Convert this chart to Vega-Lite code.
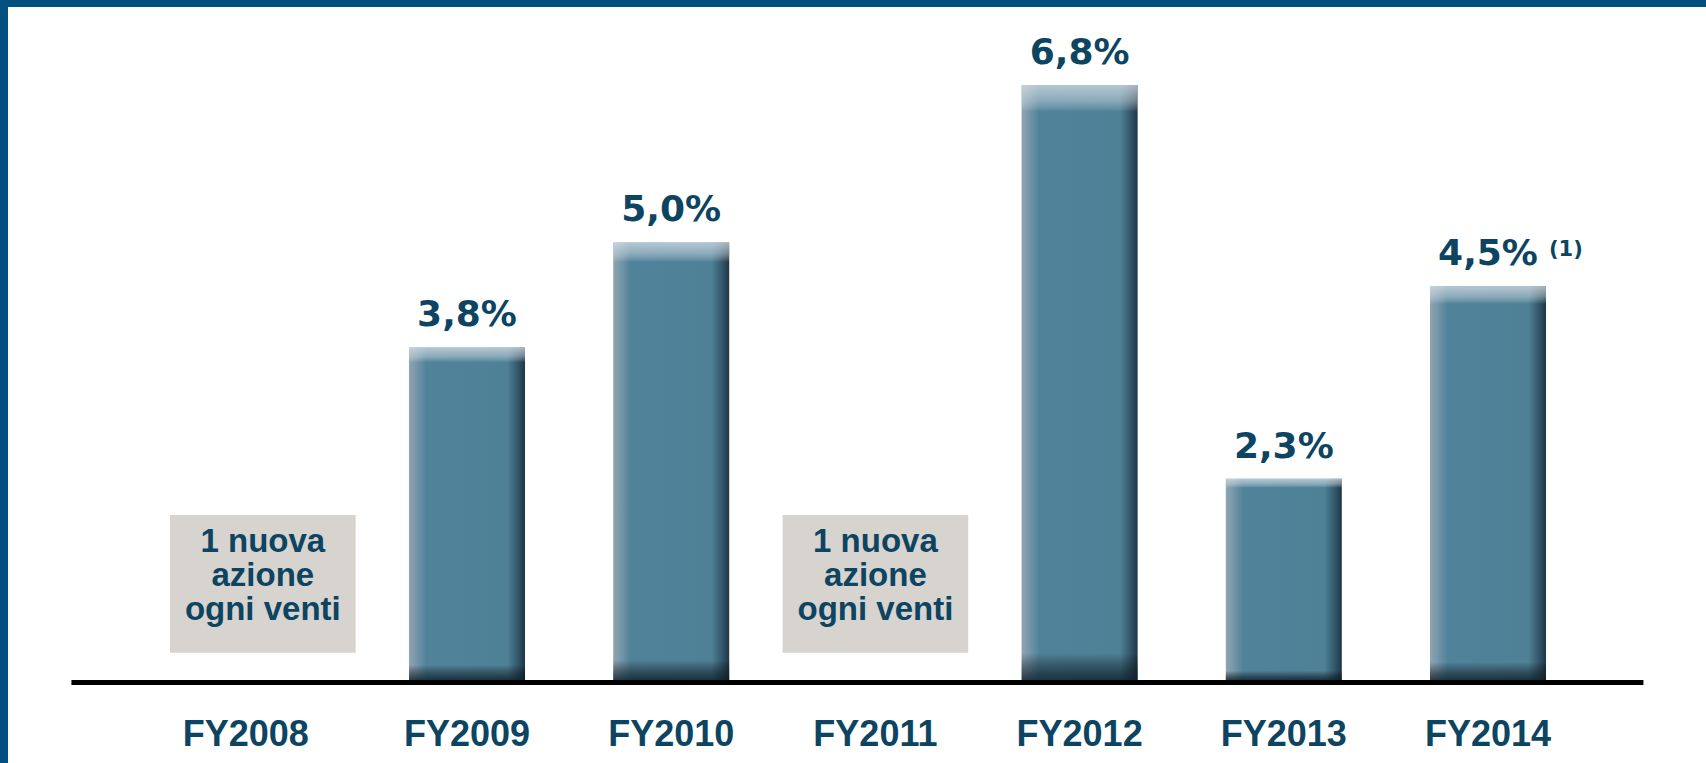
{
  "$schema": "https://vega.github.io/schema/vega-lite/v6.json",
  "width": 1698,
  "height": 756,
  "autosize": {"type": "none"},
  "padding": {"left": 8, "top": 7, "right": 0, "bottom": 0},
  "background": "#02507f",
  "view": {"fill": "white", "stroke": null},
  "data": {
    "values": [
      {"year": "FY2008", "value": null, "label": null, "note": null, "box": "1 nuova|azione|ogni venti"},
      {"year": "FY2009", "value": 3.8, "label": "3,8%", "note": null, "box": null},
      {"year": "FY2010", "value": 5.0, "label": "5,0%", "note": null, "box": null},
      {"year": "FY2011", "value": null, "label": null, "note": null, "box": "1 nuova|azione|ogni venti"},
      {"year": "FY2012", "value": 6.8, "label": "6,8%", "note": null, "box": null},
      {"year": "FY2013", "value": 2.3, "label": "2,3%", "note": null, "box": null},
      {"year": "FY2014", "value": 4.5, "label": "4,5%", "note": "(1)", "box": null}
    ]
  },
  "encoding": {
    "x": {
      "field": "year",
      "type": "nominal",
      "sort": ["FY2008", "FY2009", "FY2010", "FY2011", "FY2012", "FY2013", "FY2014"],
      "scale": {"domain": ["FY2008", "FY2009", "FY2010", "FY2011", "FY2012", "FY2013", "FY2014"], "paddingInner": 0.4319, "paddingOuter": 0.8737, "align": 0.5516},
      "axis": null
    }
  },
  "layer": [
    {
      "transform": [{"filter": "isValid(datum.box)"}],
      "mark": {"type": "bar", "fill": "#d7d3ce", "width": {"band": 1.6}},
      "encoding": {
        "y": {"datum": 0.31, "type": "quantitative", "scale": {"domain": [-0.949, 7.691], "nice": false, "zero": false}, "axis": null},
        "y2": {"datum": 1.886}
      }
    },
    {
      "transform": [{"filter": "isValid(datum.box)"}],
      "mark": {"type": "text", "lineBreak": "|", "font": "Liberation Sans", "fontWeight": "bold", "fontSize": 33, "lineHeight": 34, "baseline": "middle", "align": "center", "fill": "#0d4462"},
      "encoding": {
        "y": {"datum": 1.577, "type": "quantitative"},
        "text": {"field": "box"}
      }
    },
    {
      "transform": [{"filter": "isValid(datum.value)"}],
      "mark": {
        "type": "bar",
        "width": {"band": 1},
        "fill": {
          "gradient": "linear", "x1": 0, "x2": 1, "y1": 0, "y2": 0,
          "stops": [
            {"offset": 0, "color": "#8ea4b2"},
            {"offset": 0.05, "color": "#7d9aab"},
            {"offset": 0.15, "color": "#50829a"},
            {"offset": 0.85, "color": "#4e8096"},
            {"offset": 0.94, "color": "#33566a"},
            {"offset": 1, "color": "#1f3644"}
          ]
        }
      },
      "encoding": {
        "y": {"field": "value", "type": "quantitative"},
        "y2": {"datum": 0}
      }
    },
    {
      "transform": [{"filter": "isValid(datum.value)"}],
      "mark": {
        "type": "bar",
        "width": {"band": 1},
        "fill": {
          "gradient": "linear", "x1": 0, "x2": 0, "y1": 0, "y2": 1,
          "stops": [
            {"offset": 0, "color": "rgba(215,224,230,0.75)"},
            {"offset": 0.025, "color": "rgba(215,224,230,0.45)"},
            {"offset": 0.045, "color": "rgba(255,255,255,0)"},
            {"offset": 0.955, "color": "rgba(0,0,0,0)"},
            {"offset": 1, "color": "rgba(10,25,35,0.75)"}
          ]
        }
      },
      "encoding": {
        "y": {"field": "value", "type": "quantitative"},
        "y2": {"datum": 0}
      }
    },
    {
      "transform": [{"filter": "isValid(datum.value)"}],
      "mark": {"type": "text", "font": "DejaVu Sans", "fontWeight": "bold", "fontSize": 36, "baseline": "alphabetic", "align": "center", "dy": -21, "fill": "#0d4462"},
      "encoding": {
        "y": {"field": "value", "type": "quantitative"},
        "text": {"field": "label"}
      }
    },
    {
      "transform": [{"filter": "isValid(datum.note)"}],
      "mark": {"type": "text", "font": "DejaVu Sans", "fontWeight": "bold", "fontSize": 21, "baseline": "alphabetic", "align": "left", "dx": 61, "dy": -30, "fill": "#0d4462"},
      "encoding": {
        "y": {"field": "value", "type": "quantitative"},
        "text": {"field": "note"}
      }
    },
    {
      "transform": [{"filter": "datum.year === 'FY2011'"}],
      "mark": {"type": "tick", "orient": "horizontal", "size": 1572, "thickness": 5, "color": "#000000", "opacity": 1, "xOffset": -18, "yOffset": 2.5},
      "encoding": {
        "y": {"datum": 0, "type": "quantitative"}
      }
    },
    {
      "transform": [{"filter": "datum.year !== 'FY2008'"}],
      "mark": {"type": "text", "font": "Liberation Sans", "fontWeight": "bold", "fontSize": 36, "baseline": "alphabetic", "align": "center", "fill": "#0d4462"},
      "encoding": {
        "y": {"datum": -0.754, "type": "quantitative"},
        "text": {"field": "year"}
      }
    },
    {
      "transform": [{"filter": "datum.year === 'FY2008'"}],
      "mark": {"type": "text", "font": "Liberation Sans", "fontWeight": "bold", "fontSize": 36, "baseline": "alphabetic", "align": "center", "dx": -17, "fill": "#0d4462"},
      "encoding": {
        "y": {"datum": -0.754, "type": "quantitative"},
        "text": {"field": "year"}
      }
    }
  ]
}
